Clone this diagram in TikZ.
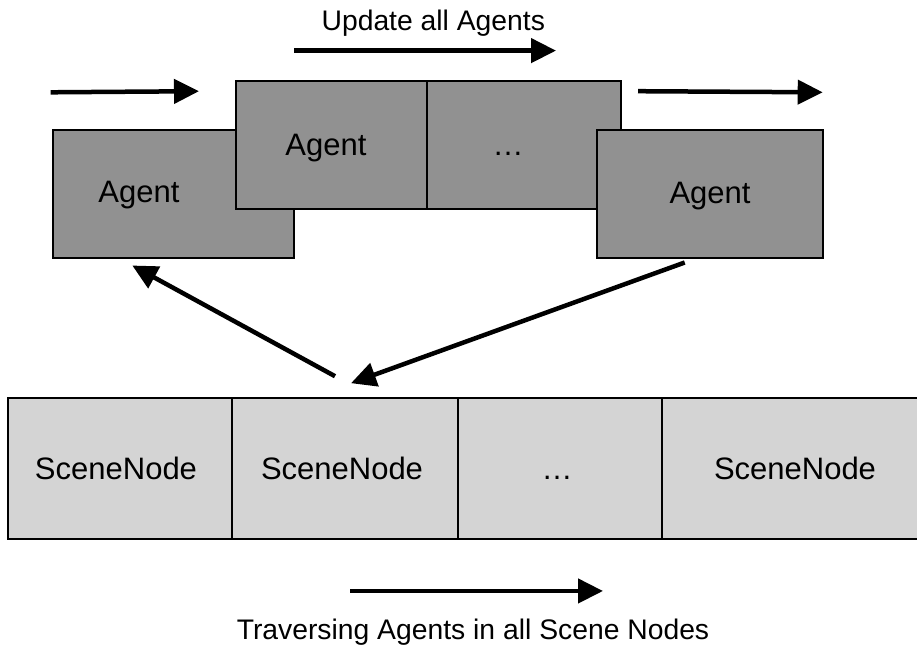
\documentclass[tikz,border=0pt]{standalone}
\usepackage{fontspec}
\setmainfont{Liberation Sans}
\usepackage{xcolor}
\usepackage{tikz}
\usetikzlibrary{arrows.meta, positioning, calc}

\definecolor{agentgray}{RGB}{145,145,145}
\definecolor{scenegray}{RGB}{212,212,212}

\tikzset{
	agentbox/.style={draw, line width=2pt, fill=agentgray, inner sep=0pt, minimum height=128pt},
	scenebox/.style={draw, line width=2pt, fill=scenegray, inner sep=0pt, minimum height=141pt},
	boxtext/.style={font=\fontsize{31}{36}\selectfont, anchor=base},
	captext/.style={font=\fontsize{28.3}{34}\selectfont, anchor=base},
	flow/.style={-{Triangle[length=25pt, width=24pt]}, line width=4.5pt}
}

\begin{document}
\begin{tikzpicture}[x=1pt, y=-1pt]
			\useasboundingbox (0,0) rectangle (917,648);
			
			% Agents - dark
			\node[agentbox, minimum width=241pt] (agentA) at (173.8,193.5) {};
			\node[boxtext] (agentAtxt) at (139,202) {Agent};
			\node[agentbox, minimum width=191pt] (agentB) at (331.5,144.6) {};
			\node[boxtext] (agentBtxt) at (326,155) {Agent};
			\node[agentbox, minimum width=194pt] (agentDots) at (524,144.6) {};
			\node[boxtext] (agentDotstxt) at (508,155) {…};
			\node[agentbox, minimum width=226pt] (agentC) at (709.7,193.5) {};
			\node[boxtext] (agentCtxt) at (710,203) {Agent};
			
			% Scene nodes - light
			\node[scenebox, minimum width=223.4pt] (sceneA) at (120,468.7) {};
			\node[scenebox, minimum width=226.6pt] (sceneB) at (345,468.7) {};
			\node[scenebox, minimum width=203.4pt] (sceneDots) at (560,468.7) {};
			\node[scenebox, minimum width=259pt] (sceneC) at (791.2,468.7) {};
			\foreach \n/\x/\t in {sceneA/116/SceneNode, sceneB/342/SceneNode, sceneDots/557/…, sceneC/795/SceneNode} {
				\node[boxtext] (\n txt) at (\x,479) {\t};
			}
			
			% Update arrows
			\coordinate (leftIn) at (50.7,92.3);
			\draw[flow] (leftIn) -- ($(agentB.north west)+(-36,11.6)$);
			\node[captext] (updLbl) at (433.3,30) {Update all Agents};
			\draw[flow] ($(agentB.north west)+(59,-29)$) -- ($(agentDots.north)+(32,-29)$);
			\coordinate (rightOut) at (822.7,92.3);
			\draw[flow] ($(agentDots.north east)+(16,11.6)$) -- (rightOut);
			
			% Between scene and agents
			\draw[flow] ($(sceneB.north)+(-10,-21)$) -- ($(agentA.south west)+(80,7)$);
			\draw[flow] ($(agentC.south west)+(89,4)$) -- ($(sceneB.north)+(6,-14)$);
			
			% Traversing arrow
			\node[captext] (travLbl) at (473,639) {Traversing Agents in all Scene Nodes};
			\draw[flow] ($(travLbl.north)+(-123,-24)$) -- ($(travLbl.north)+(130,-24)$);
			
		\end{tikzpicture}
\end{document}
